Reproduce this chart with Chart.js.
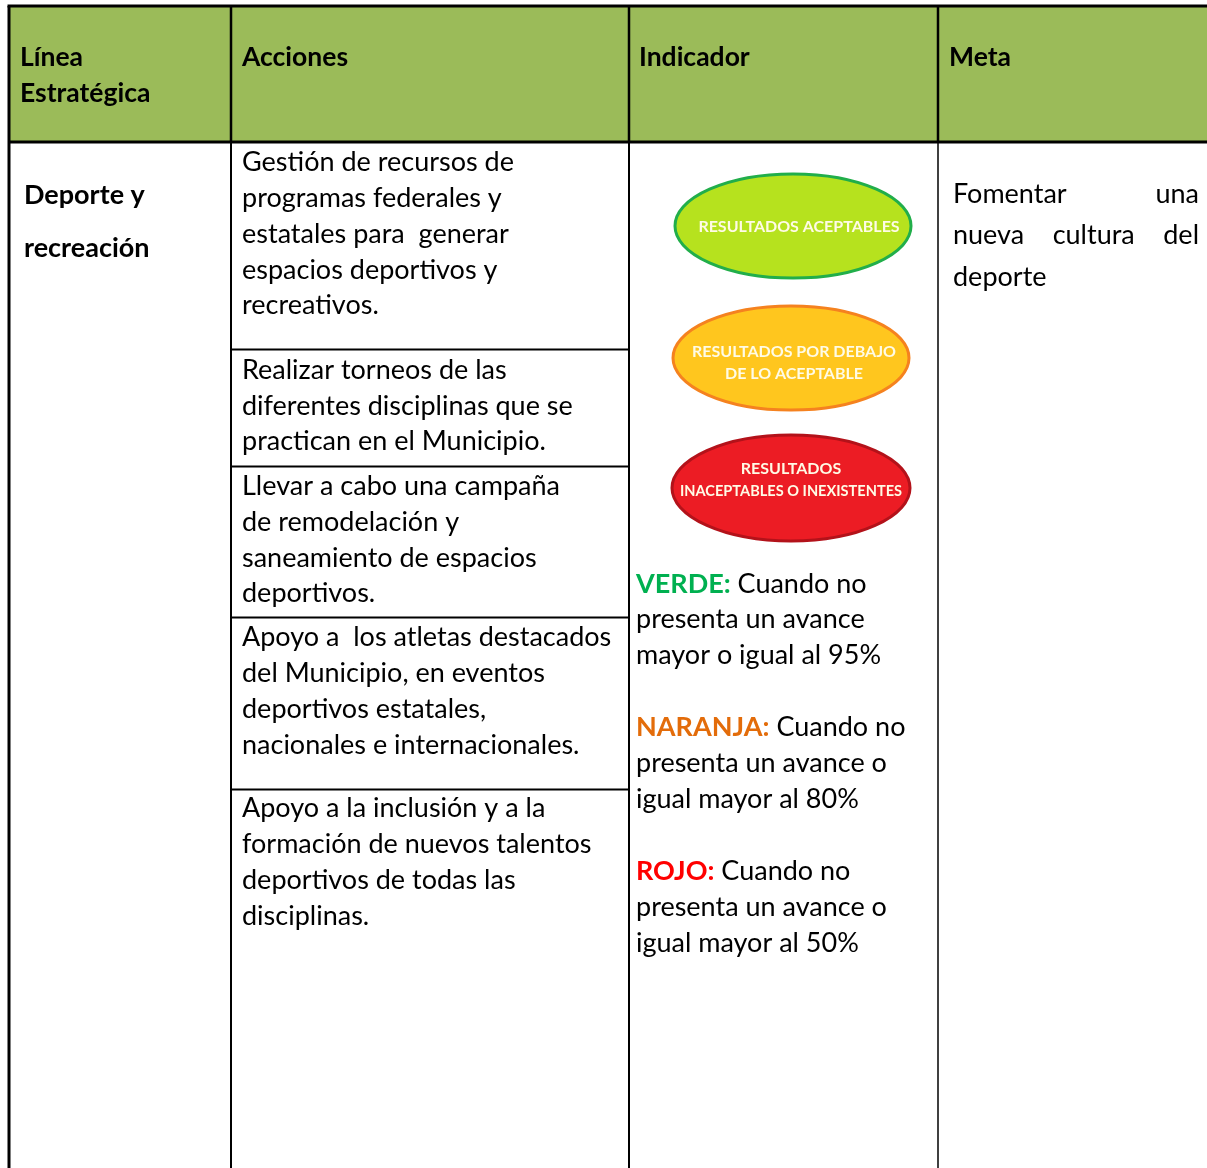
<!DOCTYPE html>
<html>
<head>
<meta charset="utf-8">
<script src="https://cdn.jsdelivr.net/npm/chart.js@4.4.0/dist/chart.umd.min.js"></script>
<style>
  html, body { margin: 0; padding: 0; background: #fff; }
  canvas { display: block; }
</style>
</head>
<body>
<canvas id="tabla" width="1207" height="1168"></canvas>
<script>
// contenido de la tabla
const encabezados = [['Línea', 'Estratégica'], ['Acciones'], ['Indicador'], ['Meta']];
const lineaEstrategica = ['Deporte y', 'recreación'];
const acciones = [
    ['Gestión de recursos de', 'programas federales y', 'estatales para  generar', 'espacios deportivos y', 'recreativos.'],
    ['Realizar torneos de las', 'diferentes disciplinas que se', 'practican en el Municipio.'],
    ['Llevar a cabo una campaña', 'de remodelación y', 'saneamiento de espacios', 'deportivos.'],
    ['Apoyo a  los atletas destacados', 'del Municipio, en eventos', 'deportivos estatales,', 'nacionales e internacionales.'],
    ['Apoyo a la inclusión y a la', 'formación de nuevos talentos', 'deportivos de todas las', 'disciplinas.']
];
const niveles = [['RESULTADOS ACEPTABLES'], ['RESULTADOS POR DEBAJO', 'DE LO ACEPTABLE'], ['RESULTADOS', 'INACEPTABLES O INEXISTENTES']];
const criteriosEtiqueta = ['VERDE:', 'NARANJA:', 'ROJO:'];
const criteriosTexto = [
    [' Cuando no', 'presenta un avance', 'mayor o igual al 95%'],
    [' Cuando no', 'presenta un avance o', 'igual mayor al 80%'],
    [' Cuando no', 'presenta un avance o', 'igual mayor al 50%']
];
const meta = [['Fomentar', 'una'], ['nueva', 'cultura', 'del'], ['deporte']];

// geometria de la pagina (unidades = pixeles del documento)
const bordes = { izq: 9, sup: 6, finEnc: 142, der: 1207, inf: 1168 };
const columnas = [231, 629, 938];
const cortesAcciones = [349.5, 466.5, 617.5, 789.5];
const lineasAcciones = [[162, 198, 234, 270, 305], [370, 406, 441], [486, 522, 558, 593], [637, 673, 709, 745], [808, 844, 880, 916]];
const elipses = [
    { cx: 793, cy: 226, rx: 118, ry: 52, relleno: '#B6E21E', trazo: '#21AE4A', tx: 799, filas: [227] },
    { cx: 791, cy: 358, rx: 118, ry: 52, relleno: '#FFC61E', trazo: '#F5821F', tx: 794, filas: [352, 374] },
    { cx: 791, cy: 488, rx: 119, ry: 53, relleno: '#EC1C24', trazo: '#B3121A', tx: 791, filas: [469, 491] }
];
const coloresCriterio = ['#00B050', '#E36C0A', '#FF0000'];
const filasCriterio = [[584, 619, 655], [727, 763, 799], [871, 907, 943]];

const FUENTE = 'Lato, "Open Sans", sans-serif';

const plantilla = {
    id: 'plantilla',
    afterDraw(chart) {
        const { ctx, scales: { x, y } } = chart;
        const px = v => x.getPixelForValue(v);
        const py = v => y.getPixelForValue(v);

        ctx.save();
        // encabezado verde
        ctx.fillStyle = '#9BBB59';
        ctx.fillRect(px(bordes.izq), py(bordes.sup), px(bordes.der) - px(bordes.izq), py(bordes.finEnc) - py(bordes.sup));

        const linea = (x1, y1, x2, y2, w) => {
            ctx.beginPath();
            ctx.lineWidth = w;
            ctx.strokeStyle = '#000';
            ctx.moveTo(px(x1), py(y1));
            ctx.lineTo(px(x2), py(y2));
            ctx.stroke();
        };
        linea(bordes.izq - 1.5, bordes.sup, bordes.der, bordes.sup, 3);
        linea(bordes.izq, bordes.sup, bordes.izq, bordes.inf, 3);
        linea(bordes.izq, bordes.finEnc, bordes.der, bordes.finEnc, 3);
        columnas.forEach((c, i) => {
            linea(c, bordes.sup, c, bordes.finEnc, 2.5);
            linea(c, bordes.finEnc, c, bordes.inf, i === 2 ? 1.5 : 2);
        });
        cortesAcciones.forEach(c => linea(columnas[0], c, columnas[1], c, 2));

        ctx.textBaseline = 'middle';
        ctx.textAlign = 'left';

        // encabezados
        ctx.fillStyle = '#000';
        ctx.font = 'bold 26.5px ' + FUENTE;
        const xEnc = [20, 242, 639, 949];
        encabezados.forEach((lineas, i) => {
            lineas.forEach((t, j) => ctx.fillText(t, px(xEnc[i]), py(57 + j * 36)));
        });

        // linea estrategica
        ctx.font = 'bold 27px ' + FUENTE;
        lineaEstrategica.forEach((t, j) => ctx.fillText(t, px(24), py(195 + j * 53)));

        // acciones
        ctx.font = '27px ' + FUENTE;
        acciones.forEach((lineas, i) => {
            lineas.forEach((t, j) => ctx.fillText(t, px(242), py(lineasAcciones[i][j])));
        });

        // semaforo
        elipses.forEach((e, i) => {
            ctx.beginPath();
            ctx.ellipse(px(e.cx), py(e.cy), Math.abs(px(e.cx + e.rx) - px(e.cx)), Math.abs(py(e.cy + e.ry) - py(e.cy)), 0, 0, Math.PI * 2);
            ctx.fillStyle = e.relleno;
            ctx.fill();
            ctx.lineWidth = 3;
            ctx.strokeStyle = e.trazo;
            ctx.stroke();
            ctx.fillStyle = '#FFFBE6';
            ctx.font = 'bold 16px ' + FUENTE;
            ctx.textAlign = 'center';
            niveles[i].forEach((t, j) => ctx.fillText(t, px(e.tx), py(e.filas[j]), 222));
            ctx.textAlign = 'left';
        });

        // criterios
        criteriosEtiqueta.forEach((et, i) => {
            const f = filasCriterio[i];
            ctx.font = 'bold 27px ' + FUENTE;
            ctx.fillStyle = coloresCriterio[i];
            ctx.fillText(et, px(636), py(f[0]));
            const w = ctx.measureText(et).width;
            ctx.font = '27px ' + FUENTE;
            ctx.fillStyle = '#000';
            ctx.fillText(criteriosTexto[i][0], px(636) + w, py(f[0]));
            ctx.fillText(criteriosTexto[i][1], px(636), py(f[1]));
            ctx.fillText(criteriosTexto[i][2], px(636), py(f[2]));
        });

        // meta (justificado)
        ctx.font = '27px ' + FUENTE;
        const xIni = px(953), xFin = px(1199);
        meta.forEach((palabras, j) => {
            const yy = py(194 + j * 41.5);
            if (j === meta.length - 1 || palabras.length === 1) {
                ctx.fillText(palabras.join(' '), xIni, yy);
                return;
            }
            const total = palabras.reduce((s, p) => s + ctx.measureText(p).width, 0);
            const hueco = (xFin - xIni - total) / (palabras.length - 1);
            let cx = xIni;
            palabras.forEach(p => {
                ctx.fillText(p, cx, yy);
                cx += ctx.measureText(p).width + hueco;
            });
        });
        ctx.restore();
    }
};

new Chart(document.getElementById('tabla'), {
    type: 'scatter',
    data: { datasets: [{ data: [], pointRadius: 0 }] },
    options: {
        responsive: false,
        animation: false,
        devicePixelRatio: 1,
        layout: { padding: 0 },
        plugins: { legend: { display: false }, tooltip: { enabled: false } },
        scales: {
            x: { type: 'linear', min: 0, max: 1207, display: false },
            y: { type: 'linear', min: 0, max: 1168, reverse: true, display: false }
        }
    },
    plugins: [plantilla]
});
</script>
</body>
</html>
